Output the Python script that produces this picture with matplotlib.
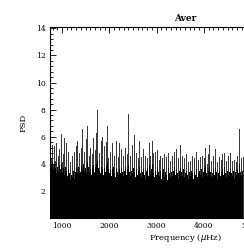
import numpy as np
import matplotlib
matplotlib.use("Agg")
import matplotlib.pyplot as plt
from matplotlib.ticker import MultipleLocator

# Frequency grid (muHz) of the displayed spectrum samples
freq_start = 756.6
freq_step = 21.14
# Peak PSD per frequency sample
psd_peak = [
    6.0, 4.4, 5.4, 4.0, 5.3, 4.2, 5.5, 3.8, 4.6, 5.1,
    3.6, 6.2, 4.1, 4.7, 5.9, 3.8, 5.5, 3.1, 4.9, 3.3,
    4.1, 3.2, 4.6, 3.5, 4.9, 3.4, 5.3, 5.7, 3.8, 4.8,
    3.4, 5.2, 6.6, 4.0, 4.9, 3.7, 5.8, 6.8, 3.8, 4.6,
    5.2, 3.2, 4.7, 5.9, 3.4, 5.0, 6.3, 8.0, 3.7, 4.8,
    3.3, 5.7, 6.0, 3.2, 5.3, 3.4, 5.6, 6.8, 4.4, 3.3,
    4.9, 3.1, 5.5, 3.8, 4.6, 3.0, 5.7, 3.4, 4.5, 5.5,
    3.3, 5.1, 3.4, 4.6, 3.5, 5.2, 3.2, 4.7, 7.7, 3.4,
    4.6, 3.5, 5.4, 3.7, 6.1, 3.0, 4.8, 3.2, 4.4, 5.7,
    3.3, 4.5, 3.4, 5.1, 3.2, 4.6, 3.5, 4.4, 3.1, 5.5,
    4.6, 3.6, 5.7, 4.8, 3.0, 4.9, 3.2, 5.0, 3.4, 4.3,
    4.6, 2.9, 4.4, 3.6, 4.7, 3.4, 4.5, 2.8, 4.8, 3.3,
    4.2, 3.4, 4.6, 3.5, 4.9, 3.2, 5.1, 3.3, 4.4, 3.5,
    5.4, 3.4, 4.6, 3.6, 4.4, 3.3, 4.7, 3.2, 4.1, 3.4,
    4.2, 3.5, 4.6, 2.9, 4.4, 3.2, 4.9, 3.0, 4.3, 3.5,
    4.5, 3.6, 4.6, 3.4, 4.4, 5.2, 3.3, 4.0, 4.7, 5.4,
    3.4, 4.2, 3.3, 4.6, 3.2, 5.1, 3.4, 4.1, 3.3, 4.5,
    3.1, 4.3, 4.7, 3.2, 4.8, 3.3, 4.2, 3.5, 4.6, 3.4,
    4.8, 3.3, 4.2, 3.5, 4.3, 3.4, 4.1, 4.6, 3.3, 6.6,
    3.4, 4.4, 3.5, 4.5,
]
# Dense (solid) level of the spectrum per frequency sample
psd_core = [
    4.4, 3.9, 4.1, 3.6, 4.0, 3.7, 3.3, 3.8, 3.5, 3.9,
    3.6, 4.0, 3.4, 3.7, 3.2, 3.8, 3.5, 3.1, 3.6, 3.3,
    2.8, 3.2, 3.0, 3.5, 2.9, 3.4, 3.7, 3.3, 3.8, 3.5,
    3.4, 3.9, 3.6, 4.0, 3.5, 3.7, 3.3, 4.1, 3.8, 3.4,
    3.6, 3.2, 3.7, 3.9, 3.4, 3.8, 4.0, 4.2, 3.7, 3.5,
    3.3, 3.8, 3.6, 3.2, 3.7, 3.4, 3.9, 4.1, 3.6, 3.3,
    3.5, 3.1, 3.6, 3.8, 3.3, 3.0, 3.7, 3.4, 3.2, 3.6,
    3.3, 3.7, 3.4, 3.1, 3.5, 3.8, 3.2, 3.6, 3.9, 3.4,
    3.1, 3.5, 3.3, 3.7, 3.4, 3.0, 3.6, 3.2, 3.5, 3.8,
    3.3, 3.0, 3.4, 3.6, 3.2, 2.9, 3.5, 3.7, 3.1, 3.9,
    3.4, 3.6, 4.0, 3.3, 3.0, 3.5, 3.2, 3.8, 3.4, 3.1,
    3.5, 2.9, 3.3, 3.6, 3.0, 3.4, 3.2, 2.8, 3.7, 3.3,
    3.0, 3.4, 3.1, 3.5, 3.8, 3.2, 3.6, 3.3, 2.9, 3.5,
    3.7, 3.4, 3.1, 3.6, 3.0, 3.3, 3.5, 3.2, 2.9, 3.4,
    3.1, 3.5, 3.3, 2.9, 3.4, 3.2, 3.6, 3.0, 3.3, 3.5,
    3.2, 3.6, 3.0, 3.4, 3.7, 3.9, 3.3, 3.1, 3.5, 3.8,
    3.4, 3.0, 3.3, 3.6, 3.2, 3.7, 3.4, 2.9, 3.3, 3.5,
    3.1, 3.4, 3.6, 3.2, 3.8, 3.3, 3.0, 3.5, 3.2, 3.4,
    3.7, 3.3, 3.1, 3.5, 2.9, 3.4, 3.2, 3.6, 3.3, 4.0,
    3.4, 3.1, 3.5, 3.3,
]
title = "Aver"
xlabel = "Frequency ($\\mu$Hz)"
ylabel = "PSD"
yticks = [2, 4, 6, 8, 10, 12, 14]
xticks = [1000, 2000, 3000, 4000, 5000, 6000]

freq = freq_start + freq_step * np.arange(len(psd_peak))

fig = plt.figure(figsize=(2.44, 2.48), dpi=100)
ax = fig.add_axes([50/244, 30/248, 270/244, 191/248])

ax.bar(freq, psd_peak, width=freq_step * 0.95, color="#3a3a3a", linewidth=0)
ax.fill_between(freq, 0, psd_core, step="mid", color="black", linewidth=0)

ax.set_xlim(746, 6454)
ax.set_ylim(0, 14.1)

fnt = dict(family="DejaVu Serif", fontsize=5.5)
ax.set_xticks(xticks)
ax.set_xticklabels([str(t) for t in xticks], **fnt)
ax.set_yticks(yticks)
ax.set_yticklabels([str(t) for t in yticks], **fnt)
ax.xaxis.set_minor_locator(MultipleLocator(100))
ax.yaxis.set_minor_locator(MultipleLocator(0.4))
ax.tick_params(which="both", direction="in", top=True, right=True, width=0.6, pad=3)
ax.tick_params(which="major", length=4)
ax.tick_params(which="minor", length=2)
for s in ax.spines.values():
    s.set_linewidth(0.8)

ax.set_title(title, pad=4, family="DejaVu Serif", fontsize=6.5, fontweight="bold")
ax.set_xlabel(xlabel, labelpad=1, family="DejaVu Serif", fontsize=6)
ax.set_ylabel(ylabel, labelpad=6, family="DejaVu Serif", fontsize=6)

fig.savefig("out.png", dpi=100)
